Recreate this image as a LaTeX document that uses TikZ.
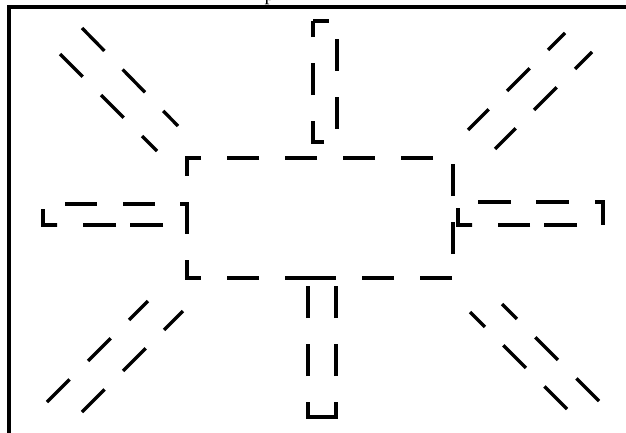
\documentclass[tikz,border=0pt]{standalone}
\usepackage{fontspec}
\newfontfamily\titlefont{Liberation Serif}
\begin{document}
\begin{tikzpicture}[x=1pt,y=-1pt,line width=3.3pt,
  dsh/.style={dash pattern=on 32pt off 26pt},
  framestyle/.style={line width=3.6pt}]
\useasboundingbox (0,0) rectangle (626,432);
\clip (0,0) rectangle (626,432);
% title, clipped at the top
\node[font=\titlefont\fontsize{20}{24}\selectfont,anchor=base west,inner sep=0pt] (title) at (263,0) {p};
% frame
\draw[framestyle] (9,7) rectangle (700,500);
% central rectangle
\draw[dsh,dash phase=34pt] (453,278) -- (453,158) -- (187,158) -- (187,278) -- (317,278);
\draw[dsh,dash phase=57pt] (453,278) -- (300,278);
% top ray
\draw[dsh,dash phase=16pt] (313,21) -- (337,21) -- (337,142) -- (313,142) -- cycle;
% bottom ray
\draw[dsh,dash phase=3pt] (322,417) -- (308,417) -- (308,278);
\draw[dsh,dash phase=3pt] (322,417) -- (336,417) -- (336,278);
% left ray
\draw[dash pattern=on 30pt off 27pt on 32pt off 26pt on 32pt off 25pt on 28pt off 24pt on 33pt off 14pt on 33pt off 26pt]
  (57,225) -- (43,225) -- (43,204) -- (187,204) -- (187,225) -- cycle;
% right ray
\draw[dash pattern=on 31pt off 26pt on 33pt off 25pt on 33pt off 26pt on 31pt off 26pt on 33pt off 14pt on 32pt off 26pt]
  (472,225) -- (458,225) -- (458,202) -- (603,202) -- (603,225) -- cycle;
% diagonal rays
\draw[dsh] (82,28) -- (178,126);
\draw[dsh] (60,54) -- (157,151);
\draw[dsh] (47,402) -- (148,301);
\draw[dsh] (82,412) -- (183,311);
\draw[dsh,dash phase=8pt] (565,33) -- (468,130);
\draw[dsh,dash phase=8pt] (592,52) -- (495,149);
\draw[dsh] (567,409) -- (470,312);
\draw[dsh] (599,401) -- (502,304);
\end{tikzpicture}
\end{document}
